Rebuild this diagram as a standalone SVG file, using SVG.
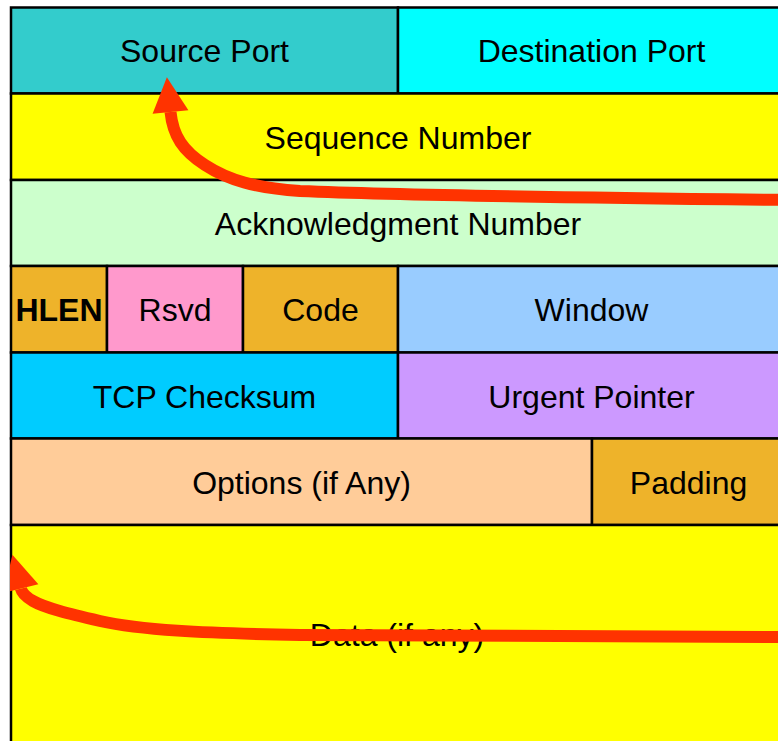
<svg xmlns="http://www.w3.org/2000/svg" width="778" height="741" viewBox="0 0 778 741">
  <style>
    .cell { stroke: #000; stroke-width: 2.5; }
    .lbl { font-family: "Liberation Sans", Arial, sans-serif; font-size: 32px; fill: #000; text-anchor: middle; }
    .bold { font-weight: bold; }
    .arrow { fill: none; stroke: #FF3300; stroke-width: 12; stroke-linecap: butt; }
  </style>
  <defs>
    <marker id="head" markerUnits="userSpaceOnUse" markerWidth="40" markerHeight="40" viewBox="0 -20 36 40" refX="0" refY="0" orient="auto" overflow="visible">
      <path d="M0,-18 L35,0 L0,18 Z" fill="#FF3300"/>
    </marker>
    <clipPath id="frameClip">
      <rect x="10" y="0" width="780" height="760"/>
    </clipPath>
  </defs>
  <rect width="778" height="741" fill="#fff"/>

  <!-- header fields, one group per field -->
  <g id="source-port">
    <rect class="cell" x="11" y="7.5" width="387" height="86" fill="#33CCCC"/>
    <text class="lbl" x="204.5" y="62">Source Port</text>
  </g>
  <g id="destination-port">
    <rect class="cell" x="398" y="7.5" width="387" height="86" fill="#00FFFF"/>
    <text class="lbl" x="591.5" y="62">Destination Port</text>
  </g>
  <g id="sequence-number">
    <rect class="cell" x="11" y="93.5" width="774" height="86.5" fill="#FFFF00"/>
    <text class="lbl" x="398" y="148.5">Sequence Number</text>
  </g>
  <g id="ack-number">
    <rect class="cell" x="11" y="180" width="774" height="86" fill="#CCFFCC"/>
    <text class="lbl" x="398" y="234.5">Acknowledgment Number</text>
  </g>
  <g id="hlen">
    <rect class="cell" x="11" y="266" width="96" height="86.5" fill="#EEB32A"/>
    <text class="lbl bold" x="59" y="321">HLEN</text>
  </g>
  <g id="rsvd">
    <rect class="cell" x="107" y="266" width="136" height="86.5" fill="#FF99CC"/>
    <text class="lbl" x="175" y="321">Rsvd</text>
  </g>
  <g id="code">
    <rect class="cell" x="243" y="266" width="155" height="86.5" fill="#EEB32A"/>
    <text class="lbl" x="320.5" y="321">Code</text>
  </g>
  <g id="window">
    <rect class="cell" x="398" y="266" width="387" height="86.5" fill="#99CCFF"/>
    <text class="lbl" x="591.5" y="321">Window</text>
  </g>
  <g id="tcp-checksum">
    <rect class="cell" x="11" y="352.5" width="387" height="86" fill="#00CCFF"/>
    <text class="lbl" x="204.5" y="407.5">TCP Checksum</text>
  </g>
  <g id="urgent-pointer">
    <rect class="cell" x="398" y="352.5" width="387" height="86" fill="#CC99FF"/>
    <text class="lbl" x="591.5" y="407.5">Urgent Pointer</text>
  </g>
  <g id="options">
    <rect class="cell" x="11" y="438.5" width="581" height="86.5" fill="#FFCC99"/>
    <text class="lbl" x="301.5" y="493.5">Options (if Any)</text>
  </g>
  <g id="padding">
    <rect class="cell" x="592" y="438.5" width="193" height="86.5" fill="#EEB32A"/>
    <text class="lbl" x="688.5" y="493.5">Padding</text>
  </g>
  <g id="data">
    <rect class="cell" x="11" y="525" width="774" height="240" fill="#FFFF00"/>
    <text class="lbl" x="397" y="646">Data (if any)</text>
  </g>

  <!-- connectors -->
  <g id="connectors">
    <path class="arrow" marker-end="url(#head)" d="M790,200 C600,198 420,196 300,191 C255,188 228,180 205,165 C183,151 173,136 170.5,112"/>
    <g clip-path="url(#frameClip)">
      <path class="arrow" marker-end="url(#head)" d="M790,637 L300,635 C200,633 140,630 100,621 C70,614 45,608 33,601 C26,597 22,593 20.9,588.6"/>
    </g>
  </g>
</svg>
